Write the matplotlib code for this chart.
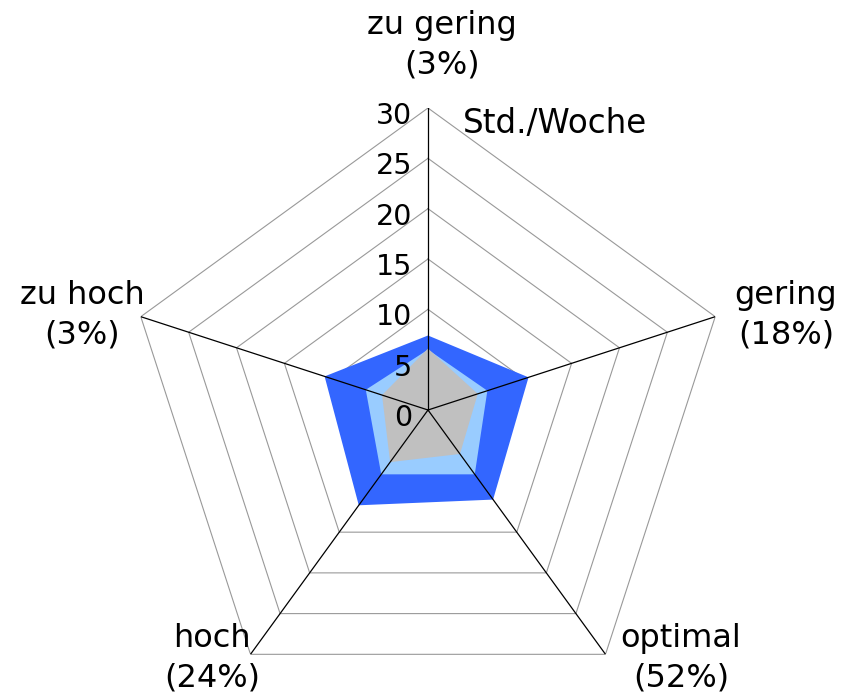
import numpy as np
import matplotlib
matplotlib.use("Agg")
import matplotlib.pyplot as plt

# Hours per week by self-rated training load, three layered series
categories = ["zu gering", "gering", "optimal", "hoch", "zu hoch"]
shares = ["(3%)", "(18%)", "(52%)", "(24%)", "(3%)"]
series_outer = [7.4, 10.5, 11.0, 11.7, 10.8]
series_middle = [6.0, 6.2, 7.9, 7.9, 6.5]
series_inner = [6.1, 5.2, 5.4, 6.4, 4.8]
rings = [5, 10, 15, 20, 25, 30]
ring_labels = ["0", "5", "10", "15", "20", "25", "30"]

colors = ["#3366FF", "#99CCFF", "#C0C0C0"]

W, H = 846, 698
cx, cy, R = 428, 410, 302  # pixel centre and radius of the plot

fig = plt.figure(figsize=(W / 100, H / 100), dpi=100)
ax = fig.add_axes([(cx - R) / W, (H - cy - R) / H, 2 * R / W, 2 * R / H],
                  projection="polar")
ax.set_theta_zero_location("N")
ax.set_theta_direction(-1)
ax.set_ylim(0, rings[-1])
ax.grid(False)
ax.set_xticks([])
ax.set_yticks([])
ax.spines["polar"].set_visible(False)
ax.patch.set_visible(False)

n = len(categories)
theta = np.arange(n) * 2 * np.pi / n
closed = np.append(theta, theta[0])

# pentagon gridlines
for r in rings:
    ax.plot(closed, [r] * (n + 1), color="#999999", lw=0.8, zorder=1)

# filled series, largest first
for vals, c, z in zip([series_outer, series_middle, series_inner], colors, [2, 3, 4]):
    ax.fill(closed, vals + vals[:1], color=c, lw=0, zorder=z)

# spokes
for t in theta:
    ax.plot([t, t], [0, rings[-1]], color="black", lw=0.9, zorder=5)

# value labels along the top spoke
for r, lab in zip([0] + rings, ring_labels):
    ax.annotate(lab, xy=(0, r), xytext=(-16, -8), textcoords="offset pixels",
                ha="right", va="center", fontsize=20.5, zorder=6,
                annotation_clip=False)

fig.text(463 / W, 1 - 124 / H, "Std./Woche", ha="left", va="center", fontsize=23.5)

# category labels (pixel positions of the two-line blocks)
label_pos = [(442, 45), (786, 315), (681, 658), (212, 658), (82, 315)]
for (px, py), cat, sh in zip(label_pos, categories, shares):
    fig.text(px / W, 1 - py / H, cat + "\n" + sh, ha="center", va="center",
             multialignment="center", fontsize=23, linespacing=1.35)

fig.savefig("out.png", dpi=100)
